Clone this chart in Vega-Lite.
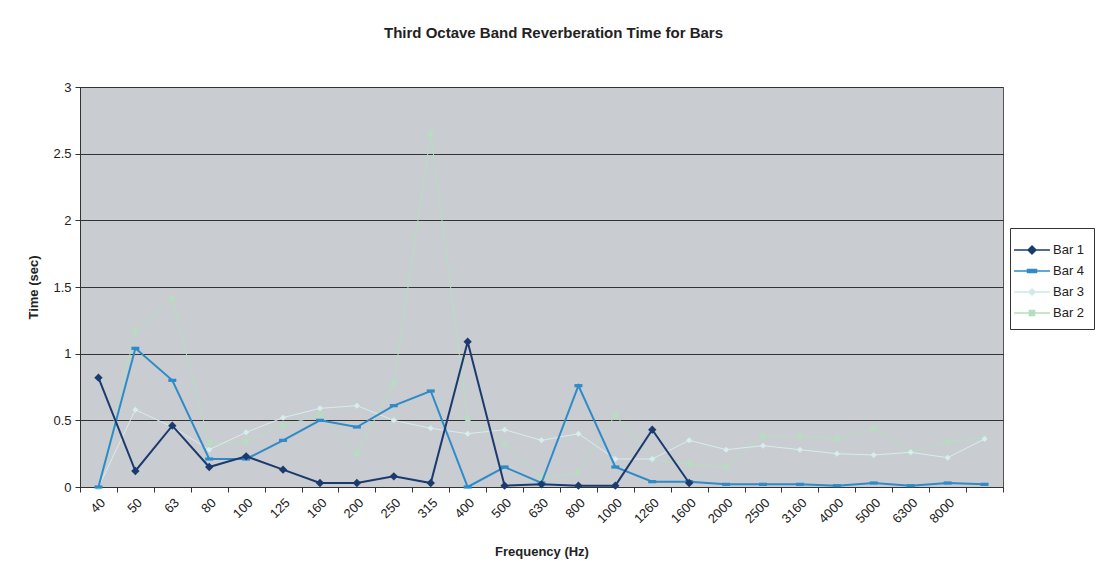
{
  "$schema": "https://vega.github.io/schema/vega-lite/v6.json",
  "autosize": {"type": "none"},
  "width": 923,
  "height": 400,
  "padding": {"left": 80, "top": 87, "right": 97, "bottom": 93},
  "background": "white",
  "title": {
    "text": "Third Octave Band Reverberation Time for Bars",
    "font": "Liberation Sans",
    "fontSize": 15,
    "fontWeight": "bold",
    "color": "#222",
    "anchor": "middle",
    "frame": "group",
    "dx": 12,
    "offset": 40
  },
  "config": {
    "view": {"fill": "#c9cdd2", "stroke": "#555", "strokeWidth": 1},
    "font": "Liberation Sans"
  },
  "data": {
    "values": [
      {"f": 40, "s": "Bar 1", "t": 0.82}, {"f": 50, "s": "Bar 1", "t": 0.12}, {"f": 63, "s": "Bar 1", "t": 0.46},
      {"f": 80, "s": "Bar 1", "t": 0.15}, {"f": 100, "s": "Bar 1", "t": 0.23}, {"f": 125, "s": "Bar 1", "t": 0.13},
      {"f": 160, "s": "Bar 1", "t": 0.03}, {"f": 200, "s": "Bar 1", "t": 0.03}, {"f": 250, "s": "Bar 1", "t": 0.08},
      {"f": 315, "s": "Bar 1", "t": 0.03}, {"f": 400, "s": "Bar 1", "t": 1.09}, {"f": 500, "s": "Bar 1", "t": 0.01},
      {"f": 630, "s": "Bar 1", "t": 0.02}, {"f": 800, "s": "Bar 1", "t": 0.01}, {"f": 1000, "s": "Bar 1", "t": 0.01},
      {"f": 1260, "s": "Bar 1", "t": 0.43}, {"f": 1600, "s": "Bar 1", "t": 0.03},

      {"f": 40, "s": "Bar 4", "t": 0.0}, {"f": 50, "s": "Bar 4", "t": 1.04}, {"f": 63, "s": "Bar 4", "t": 0.80},
      {"f": 80, "s": "Bar 4", "t": 0.21}, {"f": 100, "s": "Bar 4", "t": 0.21}, {"f": 125, "s": "Bar 4", "t": 0.35},
      {"f": 160, "s": "Bar 4", "t": 0.50}, {"f": 200, "s": "Bar 4", "t": 0.45}, {"f": 250, "s": "Bar 4", "t": 0.61},
      {"f": 315, "s": "Bar 4", "t": 0.72}, {"f": 400, "s": "Bar 4", "t": 0.0}, {"f": 500, "s": "Bar 4", "t": 0.15},
      {"f": 630, "s": "Bar 4", "t": 0.03}, {"f": 800, "s": "Bar 4", "t": 0.76}, {"f": 1000, "s": "Bar 4", "t": 0.15},
      {"f": 1260, "s": "Bar 4", "t": 0.04}, {"f": 1600, "s": "Bar 4", "t": 0.04}, {"f": 2000, "s": "Bar 4", "t": 0.02},
      {"f": 2500, "s": "Bar 4", "t": 0.02}, {"f": 3160, "s": "Bar 4", "t": 0.02}, {"f": 4000, "s": "Bar 4", "t": 0.01},
      {"f": 5000, "s": "Bar 4", "t": 0.03}, {"f": 6300, "s": "Bar 4", "t": 0.01}, {"f": 8000, "s": "Bar 4", "t": 0.03},
      {"f": 10000, "s": "Bar 4", "t": 0.02},

      {"f": 40, "s": "Bar 3", "t": 0.0}, {"f": 50, "s": "Bar 3", "t": 0.58}, {"f": 63, "s": "Bar 3", "t": 0.45},
      {"f": 80, "s": "Bar 3", "t": 0.28}, {"f": 100, "s": "Bar 3", "t": 0.41}, {"f": 125, "s": "Bar 3", "t": 0.52},
      {"f": 160, "s": "Bar 3", "t": 0.59}, {"f": 200, "s": "Bar 3", "t": 0.61}, {"f": 250, "s": "Bar 3", "t": 0.50},
      {"f": 315, "s": "Bar 3", "t": 0.44}, {"f": 400, "s": "Bar 3", "t": 0.40}, {"f": 500, "s": "Bar 3", "t": 0.43},
      {"f": 630, "s": "Bar 3", "t": 0.35}, {"f": 800, "s": "Bar 3", "t": 0.40}, {"f": 1000, "s": "Bar 3", "t": 0.21},
      {"f": 1260, "s": "Bar 3", "t": 0.21}, {"f": 1600, "s": "Bar 3", "t": 0.35}, {"f": 2000, "s": "Bar 3", "t": 0.28},
      {"f": 2500, "s": "Bar 3", "t": 0.31}, {"f": 3160, "s": "Bar 3", "t": 0.28}, {"f": 4000, "s": "Bar 3", "t": 0.25},
      {"f": 5000, "s": "Bar 3", "t": 0.24}, {"f": 6300, "s": "Bar 3", "t": 0.26}, {"f": 8000, "s": "Bar 3", "t": 0.22},
      {"f": 10000, "s": "Bar 3", "t": 0.36},

      {"f": 40, "s": "Bar 2", "t": 0.0}, {"f": 50, "s": "Bar 2", "t": 1.17}, {"f": 63, "s": "Bar 2", "t": 1.41},
      {"f": 80, "s": "Bar 2", "t": 0.33}, {"f": 100, "s": "Bar 2", "t": 0.34}, {"f": 125, "s": "Bar 2", "t": 0.46},
      {"f": 160, "s": "Bar 2", "t": 0.54}, {"f": 200, "s": "Bar 2", "t": 0.25}, {"f": 250, "s": "Bar 2", "t": 0.78},
      {"f": 315, "s": "Bar 2", "t": 2.65}, {"f": 400, "s": "Bar 2", "t": 0.51}, {"f": 500, "s": "Bar 2", "t": 0.32},
      {"f": 630, "s": "Bar 2", "t": 0.07}, {"f": 800, "s": "Bar 2", "t": 0.11}, {"f": 1000, "s": "Bar 2", "t": 0.54},
      {"f": 1260, "s": "Bar 2", "t": 0.21}, {"f": 1600, "s": "Bar 2", "t": 0.17}, {"f": 2000, "s": "Bar 2", "t": 0.15},
      {"f": 2500, "s": "Bar 2", "t": 0.38}, {"f": 3160, "s": "Bar 2", "t": 0.38}, {"f": 4000, "s": "Bar 2", "t": 0.36},
      {"f": 5000, "s": "Bar 2", "t": 0.44}, {"f": 6300, "s": "Bar 2", "t": 0.26}, {"f": 8000, "s": "Bar 2", "t": 0.34},
      {"f": 10000, "s": "Bar 2", "t": 0.37}
    ]
  },
  "encoding": {
    "x": {
      "field": "f",
      "type": "ordinal",
      "bandPosition": 0.5,
      "scale": {"type": "band", "paddingInner": 0, "paddingOuter": 0},
      "axis": {
        "title": "Frequency (Hz)",
        "titleFont": "Liberation Sans",
        "titleFontSize": 13,
        "titleFontWeight": "bold",
        "titleColor": "#222",
        "titlePadding": 20,
        "labelAngle": -45,
        "labelFontSize": 13,
        "labelColor": "#222",
        "labelPadding": 4,
        "labelExpr": "datum.value == 10000 ? '' : datum.label",
        "tickBand": "extent",
        "tickSize": 5,
        "tickColor": "#333",
        "domainColor": "#333",
        "grid": false
      }
    },
    "y": {
      "field": "t",
      "type": "quantitative",
      "scale": {"domain": [0, 3], "nice": false},
      "axis": {
        "title": "Time (sec)",
        "titleFont": "Liberation Sans",
        "titleFontSize": 13,
        "titleFontWeight": "bold",
        "titleColor": "#222",
        "titlePadding": 12,
        "values": [0, 0.5, 1, 1.5, 2, 2.5, 3],
        "format": "~g",
        "labelFontSize": 13,
        "labelColor": "#222",
        "labelPadding": 4,
        "tickSize": 5,
        "tickColor": "#333",
        "domainColor": "#333",
        "grid": true,
        "gridColor": "#333",
        "gridOpacity": 1,
        "gridWidth": 1
      }
    }
  },
  "layer": [
    {"transform": [{"filter": "datum.s == 'Bar 2'"}], "mark": {"type": "line", "color": "#b4dfbf", "strokeWidth": 1}, "encoding": {}},
    {"transform": [{"filter": "datum.s == 'Bar 2'"}], "mark": {"type": "point", "shape": "square", "filled": true, "color": "#b4dfbf", "size": 25, "opacity": 1}, "encoding": {}},
    {"transform": [{"filter": "datum.s == 'Bar 3'"}], "mark": {"type": "line", "color": "#d8eded", "strokeWidth": 1}, "encoding": {}},
    {"transform": [{"filter": "datum.s == 'Bar 3'"}], "mark": {"type": "point", "shape": "diamond", "filled": true, "color": "#d8eded", "size": 36, "opacity": 1}, "encoding": {}},
    {"transform": [{"filter": "datum.s == 'Bar 4'"}], "mark": {"type": "line", "color": "#2e8bc8", "strokeWidth": 2}, "encoding": {}},
    {"transform": [{"filter": "datum.s == 'Bar 4'"}], "mark": {"type": "point", "shape": "M-1,-0.4H1V0.4H-1Z", "filled": true, "color": "#2e8bc8", "size": 64, "opacity": 1}, "encoding": {}},
    {"transform": [{"filter": "datum.s == 'Bar 1'"}], "mark": {"type": "line", "color": "#1b3a6e", "strokeWidth": 2}, "encoding": {}},
    {"transform": [{"filter": "datum.s == 'Bar 1'"}], "mark": {"type": "point", "shape": "diamond", "filled": true, "color": "#1b3a6e", "size": 70, "opacity": 1}, "encoding": {}},
    {
      "mark": {"type": "point", "filled": true, "size": 0, "opacity": 1},
      "encoding": {
        "color": {
          "field": "s",
          "type": "nominal",
          "scale": {"domain": ["Bar 1", "Bar 4", "Bar 3", "Bar 2"], "range": ["#1b3a6e", "#2e8bc8", "#cfe8e8", "#b4dfbf"]},
          "legend": {
            "title": null,
            "orient": "none",
            "legendX": 930,
            "legendY": 141,
            "strokeColor": "#333",
            "fillColor": "white",
            "padding": 9,
            "symbolSize": 576,
            "symbolStrokeWidth": 1.5,
            "symbolOpacity": 1,
            "labelOffset": 8,
            "rowPadding": 1,
            "labelFont": "Liberation Sans",
            "labelFontSize": 13,
            "labelColor": "#222",
            "encode": {"symbols": {"update": {"stroke": {"scale": "color", "field": "value"}, "strokeWidth": {"value": 1.5}}}}
          }
        },
        "shape": {
          "field": "s",
          "type": "nominal",
          "scale": {
            "domain": ["Bar 1", "Bar 4", "Bar 3", "Bar 2"],
            "range": [
              "M-1.5,0H1.5M-0.33,0L0,-0.33L0.33,0L0,0.33Z",
              "M-1.5,0H1.5M-0.375,-0.125H0.375V0.125H-0.375Z",
              "M-1.5,0H1.5M-0.25,0L0,-0.25L0.25,0L0,0.25Z",
              "M-1.5,0H1.5M-0.21,-0.21H0.21V0.21H-0.21Z"
            ]
          },
          "legend": {
            "title": null,
            "orient": "none",
            "legendX": 930,
            "legendY": 141,
            "strokeColor": "#333",
            "fillColor": "white",
            "padding": 9,
            "symbolSize": 576,
            "symbolStrokeWidth": 1.5,
            "symbolOpacity": 1,
            "labelOffset": 8,
            "rowPadding": 1,
            "labelFont": "Liberation Sans",
            "labelFontSize": 13,
            "labelColor": "#222",
            "encode": {"symbols": {"update": {"stroke": {"scale": "color", "field": "value"}, "strokeWidth": {"value": 1.5}}}}
          }
        }
      }
    }
  ]
}
